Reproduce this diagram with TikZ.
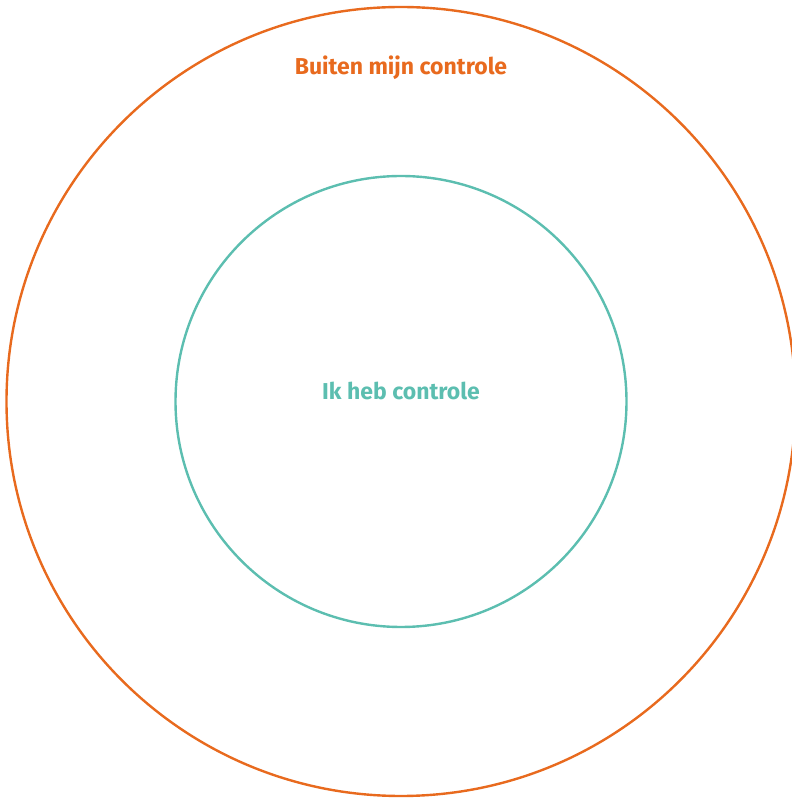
\documentclass[tikz,border=0pt]{standalone}
\usepackage{fontspec}
\setmainfont{Fira Sans}
\usepackage{xcolor}
\definecolor{ctrlorange}{RGB}{232,106,30}
\definecolor{ctrlteal}{RGB}{92,190,176}
\usetikzlibrary{positioning}

\begin{document}
\begin{tikzpicture}[x=1pt, y=1pt,
  ring/.style={line width=2.4pt},
  ringlabel/.style={font=\fontsize{23}{27}\selectfont\bfseries, anchor=base}]
  % Canvas
  \useasboundingbox (0,0) rectangle (792,798);

  % Circles of control
  \coordinate (mid) at (401,396.5);
  \draw[ring, ctrlorange] (mid) circle (394.5);
  \draw[ring, ctrlteal] (mid) circle (225.5);

  % Labels
  \node[ringlabel, text=ctrlorange] (outer) at (401,723) {Buiten mijn controle};
  \node[ringlabel, text=ctrlteal] (inner) at (401,398) {Ik heb controle};
\end{tikzpicture}
\end{document}
